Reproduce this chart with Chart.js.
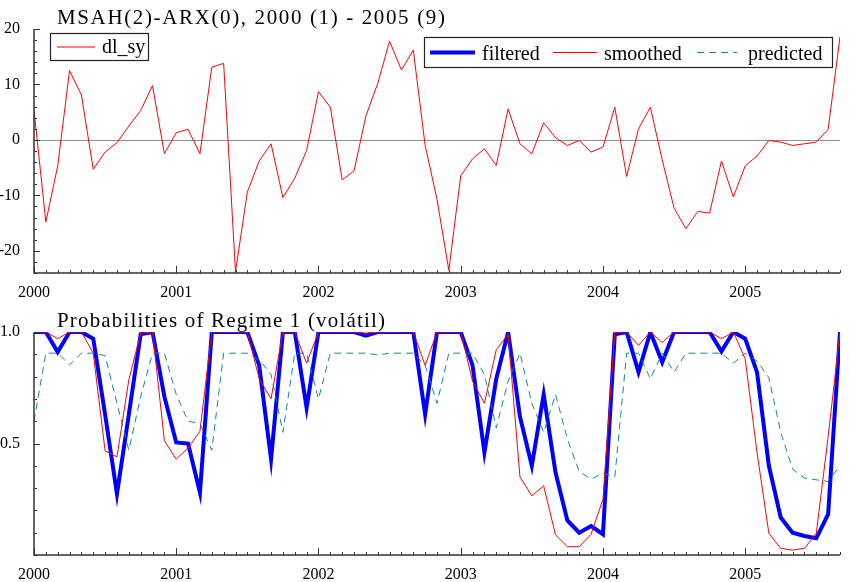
<!DOCTYPE html>
<html>
<head>
<meta charset="utf-8">
<script src="https://cdn.jsdelivr.net/npm/chart.js@4.4.1/dist/chart.umd.min.js"></script>
<style>
  html, body { margin: 0; padding: 0; background: #fff; }
  #wrap { position: relative; width: 850px; height: 582px; overflow: hidden; }
  .panel { position: absolute; left: 0; width: 850px; }
  #top { top: 0; height: 315px; }
  #bot { top: 300px; height: 282px; }
</style>
</head>
<body>
<div id="wrap">
  <div class="panel" id="top"><canvas id="c1"></canvas></div>
  <div class="panel" id="bot"><canvas id="c2"></canvas></div>
</div>
<script>
// --- dati: mensili 2000(1) - 2005(9), 69 osservazioni ---
const years = ['2000', '2001', '2002', '2003', '2004', '2005'];
const topTicks = [20, 10, 0, -10, -20];
const botTicks = [0.5, 1.0];

const dlSy = [5.4, -14.8, -4.7, 12.5, 8.1, -5.3, -2.2, -0.5, 2.5, 5.3, 9.8, -2.5,
  1.3, 1.9, -2.5, 13.1, 13.8, -23.8, -9.4, -3.8, -0.7, -10.4, -6.9, -1.9,
  8.7, 5.9, -7.2, -5.6, 4.3, 10.2, 17.8, 12.6, 16.2, -1.0, -10.7, -23.5,
  -6.5, -3.4, -1.6, -4.6, 5.6, -0.7, -2.5, 3.1, 0.4, -1.0, -0.1, -2.2,
  -1.3, 5.9, -6.6, 2.0, 5.9, -3.6, -12.3, -16.0, -12.9, -13.2, -3.8, -10.3,
  -4.7, -2.9, -0.1, -0.4, -1.0, -0.7, -0.4, 1.9, 18.6];

const filtered = [1.0, 1.0, 0.91, 1.0, 1.0, 0.97, 0.63, 0.274, 0.63, 0.99, 1.0, 0.71,
  0.505, 0.50, 0.28, 1.0, 1.0, 1.0, 1.0, 0.85, 0.43, 1.0, 1.0, 0.66,
  1.0, 1.0, 1.0, 1.0, 0.984, 1.0, 1.0, 1.0, 1.0, 0.63, 1.0, 1.0,
  1.0, 0.85, 0.46, 0.79, 1.0, 0.62, 0.40, 0.72, 0.37, 0.155, 0.10, 0.13,
  0.093, 0.99, 1.0, 0.82, 1.0, 0.864, 1.0, 1.0, 1.0, 1.0, 0.913, 1.0,
  0.97, 0.82, 0.40, 0.168, 0.10, 0.085, 0.075, 0.183, 1.0];

const smoothed = [1.0, 1.0, 0.97, 1.0, 1.0, 0.905, 0.467, 0.44, 0.785, 0.995, 1.0, 0.513,
  0.43, 0.48, 0.555, 1.0, 1.0, 1.0, 1.0, 0.79, 0.70, 1.0, 1.0, 0.86,
  1.0, 1.0, 1.0, 1.0, 0.995, 1.0, 1.0, 1.0, 1.0, 0.85, 1.0, 1.0,
  1.0, 0.78, 0.68, 0.92, 0.99, 0.35, 0.265, 0.31, 0.09, 0.037, 0.037, 0.093,
  0.25, 0.998, 1.0, 0.94, 1.0, 0.953, 1.0, 1.0, 1.0, 1.0, 0.97, 1.0,
  0.88, 0.46, 0.097, 0.03, 0.022, 0.03, 0.097, 0.53, 1.0];

const predicted = [0.60, 0.905, 0.905, 0.853, 0.905, 0.905, 0.894, 0.68, 0.47, 0.71, 0.905, 0.905,
  0.72, 0.60, 0.59, 0.47, 0.905, 0.905, 0.905, 0.875, 0.81, 0.55, 0.905, 0.905,
  0.70, 0.905, 0.905, 0.905, 0.905, 0.897, 0.905, 0.905, 0.905, 0.85, 0.68, 0.905,
  0.905, 0.905, 0.81, 0.57, 0.78, 0.905, 0.68, 0.55, 0.72, 0.52, 0.375, 0.34,
  0.367, 0.35, 0.905, 0.905, 0.79, 0.905, 0.82, 0.905, 0.905, 0.905, 0.905, 0.86,
  0.905, 0.87, 0.795, 0.55, 0.385, 0.345, 0.337, 0.33, 0.40];

const SERIF = '"Liberation Serif", "Times New Roman", serif';
const xy = arr => arr.map((v, i) => ({ x: i, y: v }));

const sty = {
  dl:   { label: 'dl_sy',     color: '#ff0000', width: 1, dash: [] },
  filt: { label: 'filtered',  color: '#0000ff', width: 4, dash: [] },
  smo:  { label: 'smoothed',  color: '#ff0000', width: 1, dash: [] },
  pred: { label: 'predicted', color: '#118a8a', width: 1, dash: [7, 5] }
};

// assi, tacche interne e linea dello zero
const frame = {
  id: 'frame',
  beforeDatasetsDraw(chart, args, o) {
    if (!o.zero) return;
    const { ctx, chartArea: a, scales: { y } } = chart;
    const py = Math.round(y.getPixelForValue(0)) + 0.5;
    ctx.save();
    ctx.strokeStyle = '#8c8c8c';
    ctx.lineWidth = 1;
    ctx.beginPath(); ctx.moveTo(a.left, py); ctx.lineTo(a.right, py); ctx.stroke();
    ctx.restore();
  },
  afterDatasetsDraw(chart, args, o) {
    const { ctx, chartArea: a, scales: { x, y } } = chart;
    ctx.save();
    ctx.strokeStyle = '#333';
    ctx.lineWidth = 1.5;
    ctx.beginPath();
    ctx.moveTo(a.left, a.top); ctx.lineTo(a.left, a.bottom); ctx.lineTo(a.right, a.bottom);
    ctx.stroke();
    ctx.lineWidth = 1;
    ctx.beginPath();
    for (let i = 0; i <= x.max; i++) {
      const px = Math.round(x.getPixelForValue(i)) + 0.5;
      const len = i % 12 === 0 ? 7 : 3;
      ctx.moveTo(px, a.bottom); ctx.lineTo(px, a.bottom - len);
    }
    const n = Math.round((y.max - y.min) / o.step);
    for (let k = 0; k <= n; k++) {
      const v = y.min + k * o.step;
      const py = Math.round(y.getPixelForValue(v)) + 0.5;
      const major = o.major.some(m => Math.abs(m - v) < 1e-6);
      ctx.moveTo(a.left, py); ctx.lineTo(a.left + (major ? 6 : 3), py);
    }
    ctx.stroke();
    ctx.restore();
  }
};

// titolo e legende disegnate a mano
const deco = {
  id: 'deco',
  afterDraw(chart, args, o) {
    const ctx = chart.ctx;
    ctx.save();
    ctx.fillStyle = '#000';
    ctx.textBaseline = 'alphabetic';
    ctx.font = '21px ' + SERIF;
    ctx.letterSpacing = '0px';
    const w0 = ctx.measureText(o.title).width;
    const sp = (o.titleW - w0) / (o.title.length - 1);
    ctx.letterSpacing = sp.toFixed(2) + 'px';
    ctx.fillText(o.title, o.tx, o.ty);
    ctx.letterSpacing = '0px';
    (o.boxes || []).forEach(b => {
      ctx.fillStyle = '#fff';
      ctx.fillRect(b.x, b.y, b.w, b.h);
      ctx.strokeStyle = '#222';
      ctx.lineWidth = 1.2;
      ctx.strokeRect(b.x + 0.5, b.y + 0.5, b.w, b.h);
      const ly = b.y + b.h / 2 + 0.5;
      b.items.forEach(it => {
        const s = it.s;
        ctx.strokeStyle = s.color;
        ctx.lineWidth = s.width;
        ctx.setLineDash(s.dash);
        ctx.beginPath(); ctx.moveTo(it.x0, ly); ctx.lineTo(it.x1, ly); ctx.stroke();
        ctx.setLineDash([]);
        ctx.fillStyle = '#000';
        ctx.font = '20px ' + SERIF;
        ctx.fillText(s.label, it.tx, b.y + b.h - 7);
      });
    });
    ctx.restore();
  }
};

function lineDs(s, data, order) {
  return {
    label: s.label, data: xy(data), borderColor: s.color, borderWidth: s.width,
    borderDash: s.dash, pointRadius: 0, tension: 0, fill: false, order: order
  };
}

function scalesFor(yMin, yMax, yTicks, fmt, xh) {
  return {
    x: {
      type: 'linear', min: 0, max: 68,
      grid: { display: false }, border: { display: false },
      afterBuildTicks: s => { s.ticks = years.map((y, k) => ({ value: k * 12 })); },
      afterFit: s => { s.height = xh; },
      ticks: {
        autoSkip: false, maxRotation: 0, padding: 2, color: '#000',
        font: { family: SERIF, size: 16 },
        callback: v => years[Math.round(v / 12)]
      }
    },
    y: {
      min: yMin, max: yMax,
      grid: { display: false }, border: { display: false },
      afterBuildTicks: s => { s.ticks = yTicks.map(v => ({ value: v })); },
      afterFit: s => { s.width = 34; },
      ticks: { padding: 6, color: '#000', font: { family: SERIF, size: 16 }, callback: fmt }
    }
  };
}

new Chart(document.getElementById('c1'), {
  type: 'line',
  data: { datasets: [lineDs(sty.dl, dlSy, 1)] },
  options: {
    responsive: true, maintainAspectRatio: false, animation: false,
    layout: { padding: { top: 29, right: 10, left: 0, bottom: 0 } },
    scales: scalesFor(-24, 20, topTicks, v => String(v), 42),
    plugins: {
      legend: { display: false }, tooltip: { enabled: false },
      frame: { zero: true, step: 2, major: topTicks },
      deco: {
        title: 'MSAH(2)-ARX(0), 2000 (1) - 2005 (9)', tx: 57, ty: 24, titleW: 388,
        boxes: [
          { x: 50, y: 33, w: 98, h: 27, items: [{ s: sty.dl, x0: 57, x1: 95, tx: 102 }] },
          { x: 424, y: 37, w: 408, h: 30, items: [
            { s: sty.filt, x0: 430, x1: 475, tx: 482 },
            { s: sty.smo, x0: 553, x1: 597, tx: 604 },
            { s: sty.pred, x0: 697, x1: 737, tx: 748 }
          ] }
        ]
      }
    }
  },
  plugins: [frame, deco]
});

new Chart(document.getElementById('c2'), {
  type: 'line',
  data: {
    datasets: [
      lineDs(sty.filt, filtered, 3),
      lineDs(sty.smo, smoothed, 2),
      lineDs(sty.pred, predicted, 1)
    ]
  },
  options: {
    responsive: true, maintainAspectRatio: false, animation: false,
    layout: { padding: { top: 32, right: 10, left: 0, bottom: 0 } },
    scales: scalesFor(0, 1, botTicks, v => v.toFixed(1), 27),
    plugins: {
      legend: { display: false }, tooltip: { enabled: false },
      frame: { zero: false, step: 0.1, major: botTicks },
      deco: { title: 'Probabilities of Regime 1 (volátil)', tx: 57, ty: 26.5, titleW: 328 }
    }
  },
  plugins: [frame, deco]
});
</script>
</body>
</html>
